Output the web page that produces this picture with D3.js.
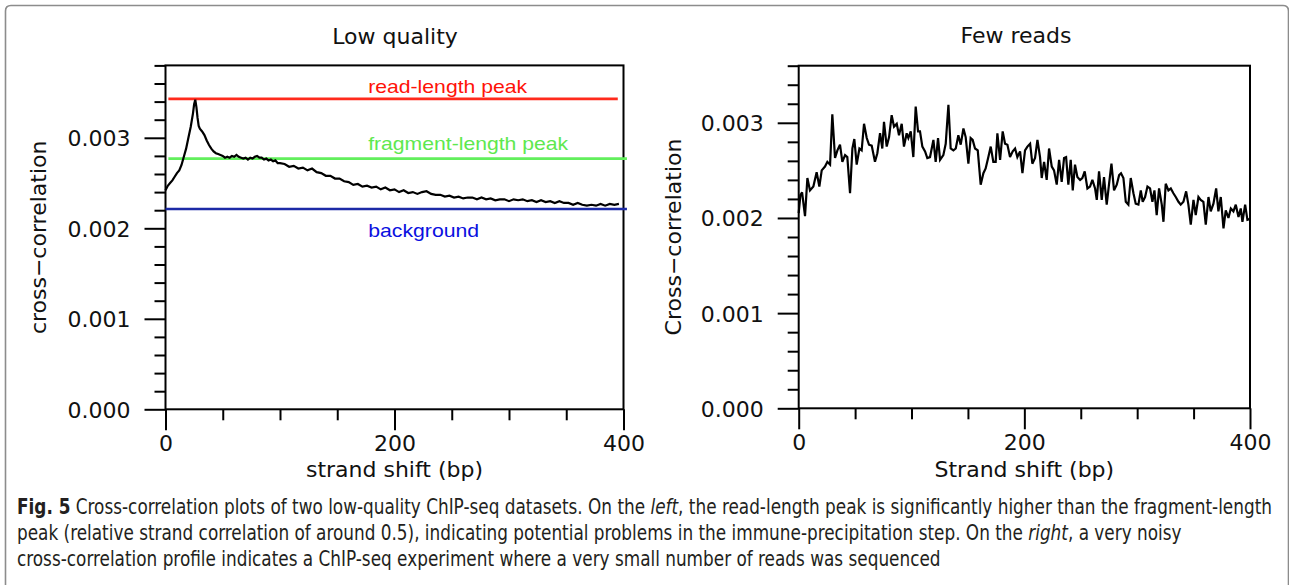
<!DOCTYPE html>
<html>
<head>
<meta charset="utf-8">
<script src="https://cdn.jsdelivr.net/npm/d3@7"></script>
<style>
  html, body { margin: 0; padding: 0; background: #fff; }
  svg { display: block; }
</style>
</head>
<body>
<svg id="fig" width="1289" height="585"></svg>
<script>
// ---- Data -------------------------------------------------------------
// Left panel: cross-correlation profile of the low-quality dataset
const leftShift = [0,2,4,6,8,10,12,14,16,18,20,22,24,25,26,27,28,29,30,32,34,36,38,40,42,44,46,48,50,
  52,54,56,58,60,62,64,66,68,70,72,74,76,78,80,82,84,86,88,90,92,94,96,98,100,
  104,108,112,116,120,124,128,132,136,140,144,148,152,156,160,164,168,172,176,180,
  184,188,192,196,200,204,208,212,216,220,224,228,232,236,240,244,248,252,256,260,
  264,268,272,276,280,284,288,292,296,300,304,308,312,316,320,324,328,332,336,340,
  344,348,352,356,360,364,368,372,376,380,384,388,392,396];
const leftCC = [0.00242,0.00247,0.00250,0.00253,0.00257,0.00261,0.00264,0.00270,0.00279,0.00288,
  0.00300,0.00312,0.00327,0.00337,0.00342,0.00334,0.00322,0.00313,0.00310,0.00307,0.00303,0.00297,
  0.00292,0.00288,0.00285,0.00283,0.00282,0.00281,0.00280,
  0.00278,0.00279,0.00278,0.00280,0.00279,0.00281,0.00279,0.00278,0.00277,0.00278,0.00276,0.00278,
  0.00277,0.00279,0.00280,0.00278,0.00278,0.00276,0.00277,0.00275,0.00276,0.00274,0.00275,0.00272,0.00272,
  0.00271,0.00268,0.00269,0.00266,0.00267,0.00264,0.00266,0.00262,0.00261,0.00258,0.00258,0.00255,
  0.00255,0.00252,0.00251,0.00248,0.00249,0.00246,0.00247,0.00245,
  0.00246,0.00243,0.00245,0.00242,0.00243,0.00240,0.00242,0.00239,0.00240,0.00238,0.00240,0.00241,
  0.00238,0.00237,0.00237,0.00235,0.00236,0.00234,0.00235,0.00233,
  0.00234,0.00234,0.00232,0.00234,0.00232,0.00233,0.00231,0.00232,0.00232,0.00230,0.00232,0.00231,
  0.00232,0.00230,0.00231,0.00229,0.00231,0.00229,0.00230,0.00228,
  0.00230,0.00228,0.00228,0.00226,0.00228,0.00226,0.00225,0.00226,0.00225,0.00227,0.00225,0.00227,
  0.00226,0.00227];

// Reference levels drawn across the left panel
const refLabels = ["read-length peak", "fragment-length peak", "background"];
const refValues = [0.00343, 0.00277, 0.002213];

// Right panel: cross-correlation profile of the dataset with few reads
const rightShift = [0,1.5,3,5.6,7.7,10.0,13.0,15.9,18.3,20.4,23.3,25.4,27.8,29.8,32.2,34.3,36.6,38.7,
  41.1,43.1,45.5,47.6,49.3,51.4,53.8,55.8,57.9,60.3,62.3,64.7,67.6,69.7,72.1,74.1,75.6,78.0,80.1,
  82.4,84.5,86.9,88.9,91.3,93.3,95.7,97.2,99.3,101.6,103.7,105.8,107.5,109.6,112.0,114.0,116.4,
  119.4,121.4,123.5,125.3,128.2,130.3,132.7,134.7,137.1,139.2,141.5,143.6,146.0,148.0,150.4,152.4,
  154.2,156.3,158.7,161.3,163.7,165.7,168.1,170.2,172.5,174.6,176.1,178.5,180.8,182.9,185.0,187.3,
  189.7,191.8,193.8,196.2,198.3,200.6,202.7,205.1,207.1,209.5,211.6,213.9,215.4,217.5,219.8,221.9,
  224.3,226.3,228.7,230.8,233.1,235.2,237.0,239.0,241.1,242.9,244.9,247.0,249.4,251.4,253.5,255.9,
  258.2,260.3,262.7,264.2,266.2,268.6,270.6,273.0,275.1,277.2,279.5,281.9,284.0,285.7,287.8,289.9,
  292.2,294.3,296.7,298.7,301.1,303.2,304.9,307.0,309.1,311.4,313.5,315.3,317.3,319.4,321.8,323.3,
  325.3,327.7,329.8,332.1,334.2,336.6,338.6,341.0,343.4,345.4,347.5,349.9,351.9,354.3,356.3,358.7,
  360.8,363.2,365.2,367.6,370.0,372.0,374.1,376.5,378.5,380.9,383.0,385.3,387.4,389.8,391.8,393.3,
  395.7,397.7,400];
const rightCC = [0.00205,0.00224,0.00227,0.00202,0.00242,0.00229,0.00233,0.00248,0.00233,0.00250,
  0.00254,0.00259,0.00256,0.00309,0.00263,0.00271,0.00277,0.00259,
  0.00266,0.00264,0.00226,0.00273,0.00283,0.00256,0.00273,0.00271,0.00299,0.00284,0.00277,0.00276,
  0.00259,0.00268,0.00289,0.00273,0.00301,0.00275,0.00285,
  0.00308,0.00296,0.00299,0.00287,0.00299,0.00275,0.00289,0.00284,0.00291,0.00264,0.00317,0.00291,
  0.00291,0.00275,0.00270,0.00263,0.00264,
  0.00282,0.00259,0.00284,0.00261,0.00266,0.00278,0.00319,0.00273,0.00271,0.00273,0.00287,0.00277,
  0.00294,0.00285,0.00257,0.00284,
  0.00282,0.00273,0.00271,0.00235,0.00247,0.00252,0.00264,0.00275,0.00259,0.00259,0.00289,0.00261,
  0.00291,0.00278,0.00277,0.00264,
  0.00270,0.00273,0.00264,0.00270,0.00247,0.00271,0.00275,0.00278,0.00257,0.00263,0.00282,0.00264,
  0.00242,0.00259,0.00240,0.00273,
  0.00254,0.00250,0.00235,0.00261,0.00238,0.00263,0.00264,0.00235,0.00261,0.00229,0.00256,0.00243,
  0.00240,0.00242,0.00249,0.00231,
  0.00233,0.00240,0.00231,0.00219,0.00249,0.00219,0.00243,0.00214,0.00236,0.00257,0.00229,0.00235,
  0.00245,0.00247,0.00242,0.00217,
  0.00214,0.00242,0.00226,0.00215,0.00214,0.00229,0.00217,0.00222,0.00233,0.00231,0.00217,0.00229,
  0.00203,0.00231,0.00214,0.00196,
  0.00236,0.00229,0.00231,0.00226,0.00222,0.00217,0.00214,0.00217,0.00228,0.00214,0.00193,0.00219,
  0.00203,0.00222,0.00219,0.00217,
  0.00193,0.00222,0.00207,0.00215,0.00231,0.00207,0.00222,0.00189,0.00208,0.00200,0.00210,0.00207,
  0.00214,0.00201,0.00210,0.00196,
  0.00214,0.00198,0.00199];

// Axis ticks
const xMajorTicks = [0, 200, 400];
const xMinorTicks = [50, 100, 150, 250, 300, 350];
const yMajorTicks = [0, 0.001, 0.002, 0.003];

// Caption
const captionLines = [
  [["Fig. 5", "b"], [" Cross-correlation plots of two low-quality ChIP-seq datasets. On the ", ""], ["left", "i"],
   [", the read-length peak is significantly higher than the fragment-length", ""]],
  [["peak (relative strand correlation of around 0.5), indicating potential problems in the immune-precipitation step. On the ", ""],
   ["right", "i"], [", a very noisy", ""]],
  [["cross-correlation profile indicates a ChIP-seq experiment where a very small number of reads was sequenced", ""]]
];

// ---- Drawing ----------------------------------------------------------
const svg = d3.select("#fig");
const AXIS_FONT = "'DejaVu Sans', Verdana, sans-serif";

svg.append("rect").attr("width", 1289).attr("height", 585).attr("fill", "#fff");

// rounded outer frame (open at the bottom)
svg.append("path")
  .attr("d", "M5.5,600 V11 Q5.5,5.5 11,5.5 H1283 Q1288.5,5.5 1288.5,11 V600")
  .attr("fill", "none").attr("stroke", "#8c8c8c").attr("stroke-width", 1.6);

function panel(opts) {
  const { x, y, shift, cc, title, titleX, titleY, yTitle, yTitleX, xTitle, under } = opts;
  const g = svg.append("g");
  const [x0, x1] = x.range();
  const [y0, y1] = y.range();
  const yMax = y.domain()[1];
  const styleLines = s => s.selectAll("line").attr("stroke", "#000").attr("stroke-width", 2);

  // minor ticks
  const yMinor = d3.range(0, yMax + 1e-9, 0.0002).filter(v => !yMajorTicks.some(m => Math.abs(m - v) < 1e-9));
  g.append("g").attr("transform", `translate(${x0},0)`)
    .call(d3.axisLeft(y).tickValues(yMinor).tickSize(11).tickFormat(""))
    .call(s => s.select(".domain").remove()).call(styleLines);
  g.append("g").attr("transform", `translate(0,${y0})`)
    .call(d3.axisBottom(x).tickValues(xMinorTicks).tickSize(11).tickFormat(""))
    .call(s => s.select(".domain").remove()).call(styleLines);

  // major ticks + labels
  g.append("g").attr("transform", `translate(${x0},0)`)
    .call(d3.axisLeft(y).tickValues(yMajorTicks).tickSize(21).tickPadding(14).tickFormat(d3.format(".3f")))
    .call(s => s.select(".domain").remove()).call(styleLines)
    .call(s => s.selectAll("text").attr("font-family", AXIS_FONT).attr("font-size", 22)
      .attr("fill", "#111").attr("dy", "0.36em"));
  g.append("g").attr("transform", `translate(0,${y0})`)
    .call(d3.axisBottom(x).tickValues(xMajorTicks).tickSize(21).tickPadding(5).tickFormat(d3.format("d")))
    .call(s => s.select(".domain").remove()).call(styleLines)
    .call(s => s.selectAll("text").attr("font-family", AXIS_FONT).attr("font-size", 22)
      .attr("fill", "#111").attr("dy", "0.71em"));

  // plot box
  g.append("rect").attr("x", x0).attr("y", y1).attr("width", x1 - x0).attr("height", y0 - y1)
    .attr("fill", "none").attr("stroke", "#000").attr("stroke-width", 2);

  // anything drawn beneath the profile
  if (under) under(g);

  // profile
  const pts = shift.map((s, i) => [s, cc[i]]);
  g.append("path").datum(pts)
    .attr("d", d3.line().x(d => x(d[0])).y(d => y(d[1])))
    .attr("fill", "none").attr("stroke", "#000").attr("stroke-width", 2.2)
    .attr("stroke-linejoin", "miter").attr("stroke-miterlimit", 3);

  // titles
  g.append("text").attr("x", titleX).attr("y", titleY).attr("text-anchor", "middle")
    .attr("font-family", AXIS_FONT).attr("font-size", 22).attr("fill", "#111").text(title);
  g.append("text").attr("transform", `translate(${yTitleX},${(y0 + y1) / 2}) rotate(-90)`)
    .attr("text-anchor", "middle").attr("font-family", AXIS_FONT).attr("font-size", 22)
    .attr("fill", "#111").text(yTitle);
  g.append("text").attr("x", (x0 + x1) / 2).attr("y", 477).attr("text-anchor", "middle")
    .attr("font-family", AXIS_FONT).attr("font-size", 22).attr("fill", "#111").text(xTitle);
  return g;
}

const xL = d3.scaleLinear([0, 400], [165.5, 623.5]);
const yL = d3.scaleLinear([0, 0.0038], [409.3, 65.4]);
const xR = d3.scaleLinear([0, 400], [798.7, 1250]);
const yR = d3.scaleLinear([0, 0.0036], [408.3, 65.7]);

// reference levels with their labels
const refStyle = [
  { line: "#ff2a1c", text: "#ff1208", from: 2.5, to: 395, dy: -6, len: 159 },
  { line: "#62ef5c", text: "#5ee84e", from: 2.5, to: 403, dy: -9, len: 200 },
  { line: "#1c2aa6", text: "#0a10e0", from: 0, to: 403, dy: 28, len: 111 }
];
function drawRefs(g) {
  refValues.forEach((v, i) => {
    const st = refStyle[i];
    g.append("line").attr("x1", xL(st.from)).attr("x2", xL(st.to)).attr("y1", yL(v)).attr("y2", yL(v))
      .attr("stroke", st.line).attr("stroke-width", 2.6);
    g.append("text").attr("x", xL(177)).attr("y", yL(v) + st.dy)
      .attr("font-family", "'Liberation Sans', Arial, sans-serif").attr("font-size", 19)
      .attr("textLength", st.len).attr("lengthAdjust", "spacingAndGlyphs")
      .attr("fill", st.text).text(refLabels[i]);
  });
}

panel({ x: xL, y: yL, shift: leftShift, cc: leftCC, title: "Low quality", titleX: 395, titleY: 44,
  yTitle: "cross\u2212correlation", yTitleX: 46, xTitle: "strand shift (bp)", under: drawRefs });

panel({ x: xR, y: yR, shift: rightShift, cc: rightCC, title: "Few reads", titleX: 1016, titleY: 42.5,
  yTitle: "Cross\u2212correlation", yTitleX: 681, xTitle: "Strand shift (bp)" });

// caption: a condensed face, squeezed so the first line spans the text block
const capG = svg.append("g");
const capBase = [514, 540, 566];
const capFont = "'DejaVu Sans Condensed', 'Liberation Sans Narrow', 'DejaVu Sans', sans-serif";
const capTexts = captionLines.map((parts, li) => {
  const t = capG.append("text").attr("font-family", capFont).attr("font-size", 20.5).attr("fill", "#231f20");
  parts.forEach(([s, f]) => {
    const sp = t.append("tspan").text(s);
    if (f === "b") sp.attr("font-weight", "bold");
    if (f === "i") sp.attr("font-style", "italic");
  });
  return t;
});
const k = 1256 / capTexts[0].node().getComputedTextLength();
capTexts.forEach((t, li) => t.attr("transform", `translate(17,${capBase[li]}) scale(${k},1)`));
</script>
</body>
</html>
